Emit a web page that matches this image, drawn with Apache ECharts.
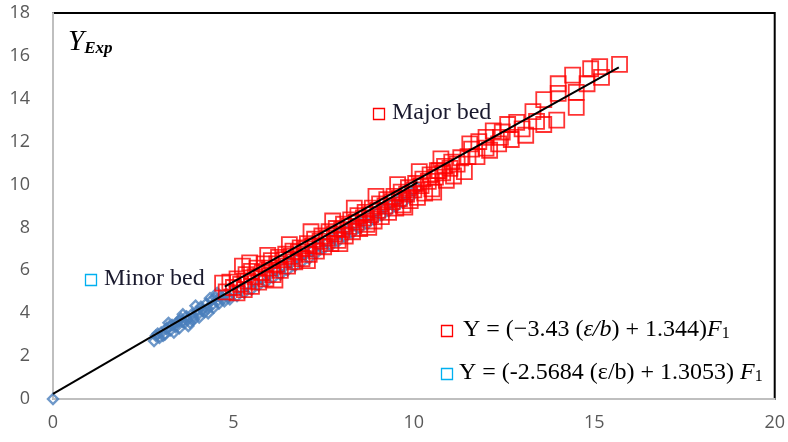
<!DOCTYPE html>
<html>
<head>
<meta charset="UTF-8">
<title>Y_Exp vs F1</title>
<script src="https://cdn.jsdelivr.net/npm/echarts@6/dist/echarts.min.js"></script>
<style>
  html, body { margin: 0; padding: 0; background: #fff; }
  #chart { width: 788px; height: 442px; }
</style>
</head>
<body>
<div id="chart"></div>
<script>
// axis ticks
const xTicks = [0, 5, 10, 15, 20];
const yTicks = [0, 2, 4, 6, 8, 10, 12, 14, 16, 18];

// minor bed points (blue diamonds)
const minorBed = [
  [0, 0],
  [2.8, 2.7], [2.85, 2.95], [2.95, 2.85], [3.0, 3.1], [3.1, 3.0], [3.15, 3.3], [3.25, 3.2],
  [3.3, 3.45], [3.4, 3.35], [3.45, 3.6], [3.5, 3.3], [3.55, 3.75], [3.65, 3.55], [3.7, 3.85],
  [3.75, 3.4], [3.85, 3.95], [3.9, 3.7], [4.0, 4.1], [4.05, 3.8], [4.1, 4.3], [4.2, 4.05],
  [4.25, 4.45], [4.3, 4.0], [4.4, 4.6], [4.45, 4.25], [4.5, 4.75], [4.6, 4.45], [4.65, 4.8],
  [4.75, 4.55], [4.8, 4.9], [4.9, 4.65], [5.0, 5.0], [5.1, 4.8], [5.2, 5.1], [5.3, 4.95],
  [3.2, 3.55], [3.6, 3.95], [3.95, 4.35], [4.35, 4.7], [4.55, 4.95], [3.35, 3.1], [3.8, 3.55],
  [3.05, 2.95], [3.22, 3.38], [3.42, 3.5], [3.58, 3.62], [3.72, 3.7], [3.88, 3.82], [4.02, 3.95],
  [4.15, 4.15], [4.28, 4.22], [4.42, 4.4], [4.58, 4.6], [4.7, 4.65], [4.85, 4.75], [2.9, 3.05],
  [5.4, 5.3], [5.5, 5.1], [5.6, 5.45], [5.7, 5.3], [5.8, 5.6], [5.9, 5.45], [6.0, 5.8],
  [6.1, 5.65], [6.2, 5.95], [6.3, 5.8], [6.4, 6.15], [6.5, 6.0], [6.6, 6.35], [6.7, 6.2],
  [6.8, 6.55], [6.9, 6.4], [7.0, 6.75], [7.1, 6.55], [7.2, 6.95], [7.3, 6.8], [7.4, 7.15],
  [7.5, 7.0], [7.6, 7.3], [7.7, 7.15], [7.8, 7.5], [7.9, 7.35], [8.0, 7.7], [8.1, 7.55],
  [8.2, 7.9], [8.3, 7.75], [8.4, 8.1], [8.5, 7.95], [8.6, 8.3], [8.7, 8.15], [8.8, 8.5],
  [8.9, 8.35], [9.0, 8.7], [9.1, 8.55], [9.2, 8.9], [9.3, 8.75], [9.4, 9.1], [9.5, 8.95],
  [9.6, 9.3], [9.7, 9.15], [9.8, 9.5], [9.9, 9.4], [10.0, 9.7], [10.1, 9.85]
];

// major bed points (red squares)
const majorBed = [
  [4.7, 5.4], [4.8, 5.0], [4.9, 5.45], [5.0, 5.2], [5.1, 4.95], [5.1, 5.6], [5.2, 5.35],
  [5.25, 6.2], [5.3, 5.1], [5.35, 5.8], [5.4, 5.5], [5.5, 5.95], [5.5, 5.25], [5.6, 5.7],
  [5.65, 6.1], [5.7, 5.45], [5.8, 5.9], [5.85, 6.3], [5.9, 5.6], [6.0, 6.1], [6.05, 6.45],
  [6.1, 5.8], [6.2, 6.3], [6.25, 6.6], [6.3, 6.0], [6.4, 6.5], [6.45, 6.75], [6.5, 6.2],
  [6.6, 6.65], [6.65, 6.9], [6.7, 6.4], [6.8, 6.85], [6.85, 7.05], [6.9, 6.55], [7.0, 7.0],
  [7.05, 7.25], [7.1, 6.75], [7.2, 7.15], [7.25, 7.45], [7.3, 6.9], [7.4, 7.35], [7.45, 7.6],
  [7.5, 7.1], [7.6, 7.5], [7.65, 7.8], [7.7, 7.25], [7.8, 7.7], [7.85, 7.95], [7.9, 7.4],
  [8.0, 7.9], [8.05, 8.15], [8.1, 7.6], [8.2, 8.05], [8.25, 8.35], [8.3, 7.8], [8.4, 8.25],
  [8.45, 8.55], [8.5, 7.95], [8.6, 8.45], [8.65, 8.7], [8.7, 8.15], [8.8, 8.6], [8.85, 8.9],
  [8.9, 8.3], [9.0, 8.8], [9.05, 9.1], [9.1, 8.5], [9.2, 9.0], [9.25, 9.3], [9.3, 8.7],
  [9.4, 9.2], [9.45, 9.45], [9.5, 8.9], [9.6, 9.35], [9.65, 9.65], [9.7, 9.05], [9.8, 9.55],
  [9.85, 9.85], [9.9, 9.25], [10.0, 9.75], [10.05, 10.05], [10.1, 9.4], [10.2, 9.95],
  [10.25, 10.25], [10.3, 9.6], [10.4, 10.15], [10.45, 10.45], [10.5, 9.8], [10.6, 10.35],
  [10.65, 10.65], [10.7, 10.65], [10.8, 10.55], [10.85, 10.85], [10.9, 10.2], [11.0, 10.75],
  [11.05, 11.05], [11.1, 10.4], [11.2, 10.95], [11.3, 11.25], [11.4, 10.6], [11.5, 11.3],
  [5.45, 6.35], [5.95, 6.7], [6.55, 7.2], [7.15, 7.8], [7.75, 8.3], [8.35, 8.9], [8.95, 9.45],
  [9.55, 10.0], [10.15, 10.6], [10.75, 11.2], [6.15, 5.55], [7.05, 6.45], [7.95, 7.25],
  [8.75, 8.0], [9.75, 8.95], [10.55, 9.65],
  [11.55, 11.9], [11.6, 11.65], [11.75, 11.3], [11.8, 12.0], [12.0, 11.7], [12.0, 12.2],
  [12.1, 11.6], [12.2, 12.5], [12.35, 11.9], [12.4, 12.2], [12.45, 12.45], [12.6, 12.8],
  [12.7, 12.1], [12.85, 12.9], [13.0, 12.6], [13.1, 12.3], [13.3, 13.4], [13.4, 12.95],
  [13.6, 13.96], [13.6, 12.8], [13.96, 13.0], [14.0, 14.25], [14.0, 14.7], [14.4, 15.1],
  [14.5, 14.3], [14.5, 13.6], [14.8, 14.7], [14.9, 15.4], [15.15, 15.5], [15.2, 15.0],
  [15.7, 15.6]
];

// fitted lines
const minorFit = [[0, 0.24], [10.1, 10.1]];
const majorFit = [[4.76, 5.24], [15.68, 15.47]];

const serif = '"Liberation Serif", "DejaVu Serif", serif';
const ink = '#1a1a2e';

const chart = echarts.init(document.getElementById('chart'));

function box(left, top, color) {
  return {
    type: 'rect', left: left, top: top, z: 100,
    shape: { width: 11, height: 11 },
    style: { fill: 'none', stroke: color, lineWidth: 1.3 }
  };
}

const eqRich = {
  n: { fontFamily: serif, fontSize: 24, color: ink },
  i: { fontFamily: serif, fontSize: 24, fontStyle: 'italic', color: ink },
  s: { fontFamily: serif, fontSize: 16, color: ink, verticalAlign: 'bottom', padding: [8, 0, 0, 0] }
};

const option = {
  animation: false,
  backgroundColor: '#fff',
  grid: {
    left: 53, right: 13, top: 13, bottom: 43,
    show: true, borderColor: '#000', borderWidth: 2, backgroundColor: '#fff'
  },
  xAxis: {
    type: 'value', min: 0, max: 20, interval: 5,
    axisLine: { show: true, onZero: false, lineStyle: { color: '#bfbfbf', width: 2 } },
    axisTick: { show: false },
    splitLine: { show: false },
    axisLabel: {
      margin: 15, color: '#595959', fontSize: 18, fontFamily: '"Open Sans", sans-serif',
      formatter: v => (xTicks.includes(v) ? String(v) : '')
    }
  },
  yAxis: {
    type: 'value', min: 0, max: 18, interval: 2,
    axisLine: { show: true, onZero: false, lineStyle: { color: '#bfbfbf', width: 2 } },
    axisTick: { show: false },
    splitLine: { show: false },
    axisLabel: {
      margin: 23, color: '#595959', fontSize: 18, fontFamily: '"Open Sans", sans-serif',
      formatter: v => (yTicks.includes(v) ? String(v) : '')
    }
  },
  series: [
    {
      name: 'Minor bed', type: 'scatter', data: minorBed,
      symbol: 'diamond', symbolSize: 10, clip: false,
      itemStyle: { color: 'rgba(0,0,0,0)', borderColor: '#4a7ebb', borderWidth: 2.4 },
      z: 2
    },
    {
      name: 'Major bed', type: 'scatter', data: majorBed,
      symbol: 'rect', symbolSize: 15,
      itemStyle: { color: 'rgba(0,0,0,0)', borderColor: '#ff0000', borderWidth: 1.8 },
      z: 3
    },
    {
      type: 'line', data: minorFit, symbol: 'none',
      lineStyle: { color: '#000', width: 2 }, z: 4
    },
    {
      type: 'line', data: majorFit, symbol: 'none',
      lineStyle: { color: '#000', width: 2 }, z: 4
    }
  ],
  graphic: [
    {
      type: 'text', left: 68, top: 28, z: 100,
      style: {
        text: '{y|Y}{e|Exp}',
        rich: {
          y: { fontFamily: serif, fontSize: 29, fontStyle: 'italic', color: '#000' },
          e: { fontFamily: serif, fontSize: 17, fontStyle: 'italic', fontWeight: 'bold', color: '#000', verticalAlign: 'bottom', padding: [10, 0, 0, 0] }
        }
      }
    },
    box(83, 272, '#00b0f0'),
    { type: 'text', left: 104, top: 267, z: 100, style: { text: 'Minor bed', font: '24px ' + serif, fill: ink } },
    box(371, 106, '#ff0000'),
    { type: 'text', left: 392, top: 101, z: 100, style: { text: 'Major bed', font: '24px ' + serif, fill: ink } },
    box(439, 323, '#ff0000'),
    {
      type: 'text', left: 463, top: 318, z: 100,
      style: { text: '{n|Y = (−3.43 (}{i|ε/b}{n|) + 1.344)}{i|F}{s|1}', rich: eqRich }
    },
    box(439, 366, '#00b0f0'),
    {
      type: 'text', left: 459, top: 361, z: 100,
      style: { text: '{n|Y = (-2.5684 (ε/b) + 1.3053) }{i|F}{s|1}', rich: eqRich }
    }
  ]
};

chart.setOption(option);
</script>
</body>
</html>
